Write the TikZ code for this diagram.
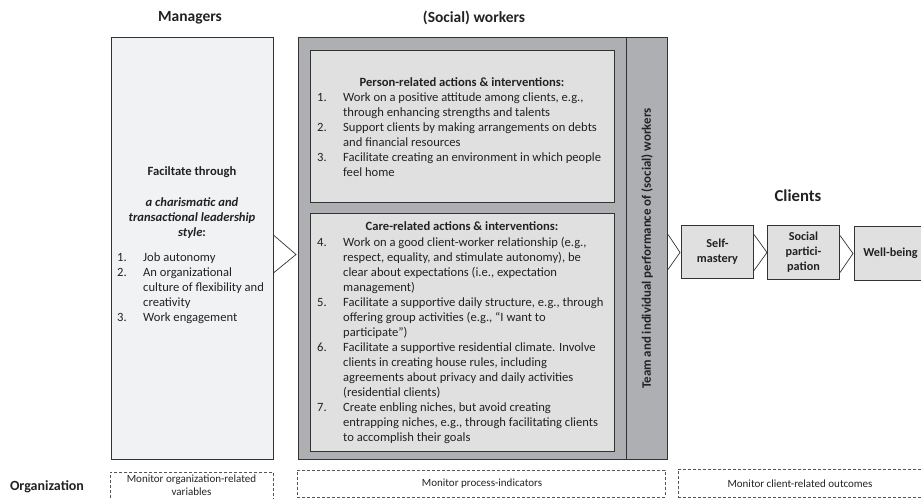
\documentclass[tikz,border=0pt]{standalone}
\usepackage{fontspec}
\setmainfont{Carlito}
\usetikzlibrary{calc}
\definecolor{linec}{HTML}{333333}
\definecolor{txtc}{HTML}{222222}
\definecolor{mgrfill}{HTML}{F1F2F4}
\definecolor{wrkfill}{HTML}{ADAFB2}
\definecolor{inbox}{HTML}{E0E0E0}
\definecolor{dashc}{HTML}{555555}
\newcommand{\fs}[2]{\fontsize{#1}{#2}\selectfont}
\newcommand{\lst}[1]{\begin{tabular}[t]{@{}p{26pt}@{}l@{}}#1\end{tabular}}
\newcommand{\ctr}[1]{\begin{tabular}[t]{@{}c@{}}#1\end{tabular}}
\tikzset{
  box/.style={draw=linec, line width=1pt, inner sep=0pt, anchor=north west},
  dbox/.style={draw=dashc, line width=0.6pt, dash pattern=on 3pt off 2pt, inner sep=0pt, anchor=north west},
  chev/.style={draw=linec, line width=0.7pt},
  txt/.style={text=txtc, inner sep=0pt, font=\fs{12.6}{15}},
  btxt/.style={txt, font=\bfseries\fs{12.6}{15}},
  hdr/.style={text=txtc, inner sep=0pt, font=\bfseries\fs{15.5}{18}},
}
\begin{document}
\begin{tikzpicture}[x=1pt,y=-1pt]
\useasboundingbox (0,0) rectangle (921,498);
\clip (0,0) rectangle (921,498);
% headers
\node[hdr] (hmgr) at (190,18) {Managers};
\node[hdr] (hwrk) at (474,18) {(Social) workers};
\node[hdr, font=\bfseries\fs{16.7}{19}] (hcli) at (798,196) {Clients};
\node[hdr, font=\bfseries\fs{14}{16}] (horg) at (47,487) {Organization};

% managers box
\node[box, fill=mgrfill, minimum width=162pt, minimum height=422pt] (mgr) at (111,37) {};
\node[btxt, anchor=base] (mgrh) at (192,175.5) {Faciltate through};
\node[txt, anchor=base] (mgrs) at (192,206.5) {\ctr{\textbf{\textit{a charismatic and}}\\ \textbf{\textit{transactional leadership}}\\ \textbf{\textit{style}:}}};
\node[txt, anchor=base west] (mgrl) at (117,261.5) {\lst{1. & Job autonomy\\ 2. & An organizational\\ & culture of flexibility and\\ & creativity\\ 3. & Work engagement}};

% workers box
\node[box, fill=wrkfill, minimum width=328pt, minimum height=422pt] (wrk) at (298,37) {};
\node[box, fill=wrkfill, minimum width=41pt, minimum height=422pt] (bar) at (626,37) {};
\node[txt, rotate=90, font=\bfseries\fs{12.9}{15}] (bart) at (bar.center) {Team and individual performance of (social) workers};

\node[box, fill=inbox, minimum width=304pt, minimum height=152pt] (pr) at (310,50) {};
\node[btxt, anchor=base] (prh) at (462,86) {Person-related actions \& interventions:};
\node[txt, anchor=base west] (prl) at (317,101.5) {\lst{1. & Work on a positive attitude among clients, e.g.,\\ & through enhancing strengths and talents\\ 2. & Support clients by making arrangements on debts\\ & and financial resources\\ 3. & Facilitate creating an environment in which people\\ & feel home}};

\node[box, fill=inbox, minimum width=304pt, minimum height=238pt] (cr) at (310,213) {};
\node[btxt, anchor=base] (crh) at (462,230.5) {Care-related actions \& interventions:};
\node[txt, anchor=base west] (crl) at (317,246) {\lst{4. & Work on a good client-worker relationship (e.g.,\\ & respect, equality, and stimulate autonomy), be\\ & clear about expectations (i.e., expectation\\ & management)\\ 5. & Facilitate a supportive daily structure, e.g., through\\ & offering group activities (e.g., “I want to\\ & participate”)\\ 6. & Facilitate a supportive residential climate. Involve\\ & clients in creating house rules, including\\ & agreements about privacy and daily activities\\ & (residential clients)\\ 7. & Create enbling niches, but avoid creating\\ & entrapping niches, e.g., through facilitating clients\\ & to accomplish their goals}};

% clients
\node[box, fill=inbox, minimum width=72pt, minimum height=53pt] (sm) at (681,225) {};
\node[btxt, font=\bfseries\fs{12.2}{15}, align=center] (smt) at (sm.center) {Self-\\mastery};
\node[box, fill=inbox, minimum width=72pt, minimum height=54pt] (sp) at (767,225) {};
\node[btxt, font=\bfseries\fs{12.2}{15}, align=center] (spt) at (sp.center) {Social\\partici-\\pation};
\node[box, fill=inbox, minimum width=72pt, minimum height=54pt] (wb) at (854,226) {};
\node[btxt, font=\bfseries\fs{12.2}{15}] (wbt) at (wb.center) {Well-being};

% chevrons
\draw[chev] (mgr.east) ++(0,-13) -- ++(22,19) -- ++(-22,18);
\draw[chev] (bar.east) ++(0,-14) -- ++(12,18) -- ++(-12,17);
\draw[chev] (sm.east) ++(0,-17.5) -- ++(13,18) -- ++(-13,18);
\draw[chev] (sp.east) ++(0,-17) -- ++(13,18) -- ++(-13,19);

% monitoring boxes
\node[dbox, minimum width=163pt, minimum height=36pt] (d1) at (110,472) {};
\node[txt, font=\fs{11}{12.5}, align=center] (d1t) at (191.5,485) {Monitor organization-related\\variables};
\node[dbox, minimum width=368pt, minimum height=27pt] (d2) at (297,470) {};
\node[txt, font=\fs{11}{13.5}] (d2t) at (482,484) {Monitor process-indicators};
\node[dbox, minimum width=250pt, minimum height=28pt] (d3) at (678,469) {};
\node[txt, font=\fs{11}{13.5}] (d3t) at (800,484) {Monitor client-related outcomes};
\end{tikzpicture}
\end{document}
